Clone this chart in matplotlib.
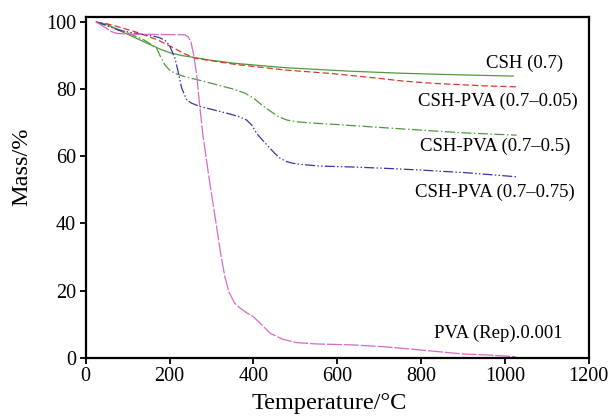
#!/usr/bin/env python3
"""TG curves of CSH and CSH-PVA samples (mass loss vs temperature)."""

import matplotlib

matplotlib.use("Agg")
import matplotlib.pyplot as plt

# ---- data ----
csh_t = [25, 50, 78, 120, 157, 180, 205, 230, 261, 300, 356, 420, 476, 550, 623,
         742, 850, 950, 1020]
csh_m = [100, 99.3, 97.6, 95.2, 93.1, 91.8, 90.7, 90.0, 89.4, 88.6, 87.7, 87.0, 86.4,
         85.9, 85.4, 84.8, 84.4, 84.1, 83.9]

pva005_t = [25, 50, 80, 118, 150, 173, 205, 235, 261, 304, 356, 420, 476, 530, 583,
            640, 702, 750, 800, 850, 950, 1028]
pva005_m = [100, 99.5, 98.5, 97.1, 95.7, 94.6, 92.6, 90.6, 89.2, 88.4, 87.4, 86.5, 85.7,
            85.2, 84.7, 84.0, 83.2, 82.5, 82.0, 81.6, 81.0, 80.7]

pva05_t = [25, 60, 94, 140, 160, 169, 178, 189, 200, 213, 237, 280, 316, 350, 380, 400,
           420, 440, 460, 480, 503, 540, 583, 702, 800, 900, 1028]
pva05_m = [100, 98.6, 97.1, 94.6, 93.0, 92.2, 89.8, 87.2, 85.7, 84.7, 83.7, 82.4, 81.2,
           80.1, 78.8, 77.4, 75.3, 73.5, 71.8, 70.8, 70.3, 69.9, 69.6, 68.6, 67.8, 67.0, 66.3]

pva075_t = [25, 50, 78, 120, 157, 175, 189, 200, 213, 220, 229, 241, 253, 273, 300,
            344, 370, 384, 396, 408, 422, 436, 450, 464, 480, 495, 520, 559, 640, 718,
            800, 909, 1028]
pva075_m = [100, 99.0, 97.6, 96.6, 95.9, 95.4, 94.6, 93.0, 89.2, 85.5, 80.3, 76.8, 75.8,
            74.8, 74.0, 72.6, 71.6, 70.8, 69.3, 66.8, 64.8, 62.9, 61.0, 59.4, 58.4, 57.9,
            57.5, 57.1, 56.8, 56.4, 55.9, 55.1, 53.9]

pva_t = [25, 45, 60, 75, 100, 237, 245, 251, 258, 265, 272, 280, 295, 311, 322, 332,
         342, 355, 368, 385, 400, 420, 440, 470, 503, 550, 638, 720, 798, 850, 900, 960,
         1000, 1025]
pva_m = [100, 98.5, 97.2, 96.6, 96.4, 96.2, 95.5, 94.1, 90.0, 84.0, 75.0, 66.0, 52.9,
         40.0, 31.0, 24.1, 19.5, 16.3, 14.8, 13.3, 12.2, 9.8, 7.3, 5.5, 4.5, 4.1, 3.8,
         3.2, 2.3, 1.7, 1.1, 0.8, 0.5, 0.3]

labels = [
    "CSH (0.7)",
    "CSH-PVA (0.7\u20130.05)",
    "CSH-PVA (0.7\u20130.5)",
    "CSH-PVA (0.7\u20130.75)",
    "PVA (Rep).0.001",
]
x_ticks = [0, 200, 400, 600, 800, 1000, 1200]
y_ticks = [0, 20, 40, 60, 80, 100]


def main() -> None:
    plt.rcParams["font.family"] = ["Liberation Serif", "DejaVu Serif"]

    fig = plt.figure(figsize=(6.13, 4.19), dpi=100)
    ax = fig.add_axes([0.1398, 0.1463, 0.8206, 0.8131])

    lw = 0.9
    ax.plot(csh_t, csh_m, color="#4f9a3c", lw=lw, linestyle="-")
    ax.plot(pva005_t, pva005_m, color="#e0352b", lw=lw, linestyle=(0, (5, 2.5)))
    ax.plot(pva05_t, pva05_m, color="#4f9a3c", lw=lw, linestyle=(0, (8, 2, 1.2, 2)))
    ax.plot(pva075_t, pva075_m, color="#3a35a8", lw=lw,
            linestyle=(0, (8, 1.8, 1.2, 1.8, 1.2, 1.8)))
    ax.plot(pva_t, pva_m, color="#d46bc6", lw=lw, linestyle=(0, (12, 1.5)))

    # curve labels (right edge, vertical centre in data units)
    spots = [(1139, 87.7), (1175, 76.3), (1157, 62.9), (1167, 49.4), (1138, 7.3)]
    for text, (x, y) in zip(labels, spots):
        ax.text(x, y, text, ha="right", va="center", fontsize=13.5)

    ax.set_xlim(0, 1200)
    ax.set_ylim(0, 101.5)
    ax.set_xticks(x_ticks)
    ax.set_yticks(y_ticks)
    ax.tick_params(axis="both", direction="out", length=4.5, width=1.3,
                   labelsize=14.5, pad=2.5)
    for spine in ax.spines.values():
        spine.set_linewidth(1.6)

    ax.set_xlabel("Temperature/\u00b0C", fontsize=17.5)
    ax.set_ylabel("Mass/%", fontsize=17.5)
    ax.xaxis.set_label_coords(0.484, -0.105)
    ax.yaxis.set_label_coords(-0.107, 0.56)

    fig.savefig("out.png", dpi=100)
    plt.close(fig)


if __name__ == "__main__":
    main()
